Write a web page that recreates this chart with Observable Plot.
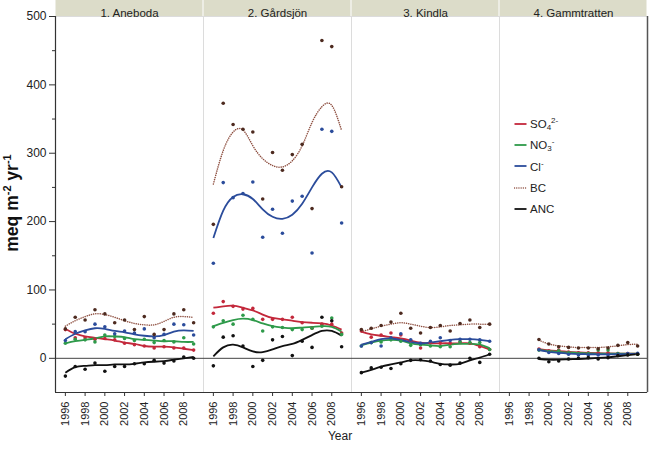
<!DOCTYPE html>
<html>
<head>
<meta charset="utf-8">
<script src="https://cdn.jsdelivr.net/npm/d3@7"></script>
<script src="https://cdn.jsdelivr.net/npm/@observablehq/plot@0.6"></script>
<style>
  html, body { margin: 0; padding: 0; background: #fff; }
  body { font-family: "Liberation Sans", Arial, Helvetica, sans-serif; color: #222; }
  #wrap { position: relative; width: 650px; height: 449px; overflow: hidden; }
  #ytitle { position: absolute; left: 12px; top: 203px; transform: translate(-50%, -50%) rotate(-90deg);
            white-space: nowrap; font-size: 17.5px; font-weight: bold; color: #111; }
  #ytitle sup { font-size: 11px; vertical-align: 7px; }
  #xtitle { position: absolute; left: 340px; top: 436px; transform: translate(-50%, -50%); font-size: 12px; color: #222; }
  .leg { position: absolute; left: 514px; height: 16px; display: flex; align-items: center; font-size: 11.5px; color: #222; white-space: nowrap; }
  .leg svg { margin-right: 3px; }
  .leg sub { font-size: 8px; vertical-align: -2px; }
  .leg sup { font-size: 8px; vertical-align: 5px; }
</style>
</head>
<body>
<div id="wrap"></div>
<script>
// ---------- data ----------
const facets = ["1. Aneboda", "2. Gårdsjön", "3. Kindla", "4. Gammtratten"];
const seriesNames = ["SO4", "NO3", "Cl", "BC", "ANC"];
const legendLabels = ["SO<sub>4</sub><sup>2-</sup>", "NO<sub>3</sub><sup>-</sup>", "Cl<sup>-</sup>", "BC", "ANC"];
const yearsFull = [1996, 1997, 1998, 1999, 2000, 2001, 2002, 2003, 2004, 2005, 2006, 2007, 2008, 2009];
const yearsGam = [1999, 2000, 2001, 2002, 2003, 2004, 2005, 2006, 2007, 2008, 2009];
const xTickYears = [1996, 1998, 2000, 2002, 2004, 2006, 2008];
const yTicks = [0, 100, 200, 300, 400, 500];
const yMinorTicks = [50, 150, 250, 350, 450];

// 1. Aneboda – observed
const anebodaSO4 = [42, 30, 30, 28, 29, 27, 22, 20, 18, 15, 17, 15, 15, 12];
const anebodaNO3 = [22, 28, 27, 24, 34, 32, 29, 26, 28, 23, 26, 24, 30, 21];
const anebodaCl  = [26, 39, 39, 50, 46, 36, 40, 37, 43, 30, 35, 50, 49, 34];
const anebodaBC  = [43, 60, 56, 71, 65, 52, 56, 42, 61, 35, 42, 65, 71, 52];
const anebodaANC = [-26, -12, -16, -7, -19, -12, -12, -8, -8, -3, -7, -4, 2, 0];
// 1. Aneboda – smoothed curve
const anebodaSO4Fit = [43, 36, 32, 30, 28, 26, 23, 21, 18, 17, 17, 16, 14, 12];
const anebodaNO3Fit = [22, 25, 27, 29, 32, 32, 31, 28, 27, 26, 25, 25, 24, 24];
const anebodaClFit  = [28, 36, 41, 44, 43, 40, 38, 35, 33, 32, 34, 39, 41, 40];
const anebodaBCFit  = [47, 55, 61, 65, 64, 60, 55, 51, 49, 49, 54, 60, 61, 60];
const anebodaANCFit = [-21, -13, -11, -10, -10, -9, -9, -8, -6, -5, -4, -2, 0, 2];

// 2. Gårdsjön – observed
const gardsjonSO4 = [66, 83, 76, 72, 73, 57, 57, 57, 60, 52, 44, 50, 50, 37];
const gardsjonNO3 = [46, 55, 50, 63, 57, 40, 46, 45, 42, 42, 44, 47, 59, 35];
const gardsjonCl  = [139, 257, 235, 241, 258, 177, 218, 183, 230, 237, 154, 335, 332, 198];
const gardsjonBC  = [196, 373, 342, 335, 331, 233, 301, 275, 298, 313, 219, 465, 456, 251];
const gardsjonANC = [-11, 31, 33, 18, -12, -3, 27, 32, 4, 25, 16, 60, 55, 17];
// 2. Gårdsjön – smoothed curve
const gardsjonSO4Fit = [74, 76, 77, 74, 70, 64, 59, 57, 55, 53, 52, 51, 48, 42];
const gardsjonNO3Fit = [47, 52, 56, 58, 56, 51, 47, 45, 44, 45, 46, 47, 46, 39];
const gardsjonClFit  = [176, 216, 236, 240, 233, 218, 207, 204, 210, 226, 250, 270, 272, 250];
const gardsjonBCFit  = [255, 304, 331, 334, 311, 292, 282, 280, 289, 311, 345, 368, 370, 333];
const gardsjonANCFit = [3, 16, 20, 16, 10, 9, 13, 18, 21, 27, 34, 40, 40, 33];

// 3. Kindla – observed
const kindlaSO4 = [40, 31, 34, 37, 34, 26, 15, 23, 22, 22, 24, 22, 17, 13];
const kindlaNO3 = [18, 23, 24, 27, 25, 19, 20, 18, 17, 17, 24, 23, 23, 13];
const kindlaCl  = [18, 23, 18, 30, 36, 27, 22, 25, 30, 26, 28, 28, 27, 25];
const kindlaBC  = [42, 44, 48, 53, 66, 44, 37, 45, 48, 40, 51, 56, 45, 50];
const kindlaANC = [-21, -14, -13, -15, -8, -3, -2, -4, -9, -10, -7, 0, -6, 6];
// 3. Kindla – smoothed curve
const kindlaSO4Fit = [39, 35, 33, 31, 29, 26, 23, 22, 22, 22, 22, 22, 18, 13];
const kindlaNO3Fit = [19, 23, 26, 27, 26, 22, 20, 19, 18, 20, 21, 21, 20, 15];
const kindlaClFit  = [20, 24, 28, 29, 27, 24, 22, 23, 25, 27, 28, 28, 27, 25];
const kindlaBCFit  = [39, 43, 47, 50, 52, 50, 47, 45, 46, 48, 49, 50, 50, 50];
const kindlaANCFit = [-21, -17, -12, -9, -6, -3, -3, -5, -8, -9, -8, -3, 1, 6];

// 4. Gammtratten – observed (from 1999)
const gammSO4 = [13.5, 11, 12, 9, 8, 8, 8, 8, 7, 7, 6];
const gammNO3 = [12, 10, 11, 8, 7, 7, 12, 12, 7, 6, 6];
const gammCl  = [12.5, 8.5, 7, 6, 5, 5, 5, 5, 6, 7, 7.5];
const gammBC  = [27.5, 21, 17, 16, 15, 15, 14, 15, 19, 23, 18];
const gammANC = [0, -5, -4, -1, 0, 1, -1, 1, 4, 5, 6];
// 4. Gammtratten – smoothed curve
const gammSO4Fit = [13.5, 11.5, 10.5, 9.5, 8.7, 8, 7.5, 7.2, 7, 7, 7];
const gammNO3Fit = [12.5, 10.8, 9.5, 8.5, 7.8, 7.3, 7, 6.8, 6.7, 6.8, 7];
const gammClFit  = [12, 9.5, 8, 7, 6.3, 6, 5.8, 5.8, 6, 6.3, 6.6];
const gammBCFit  = [26.5, 21, 18.3, 16.8, 15.8, 15.8, 15.8, 16.8, 18.3, 20, 20.7];
const gammANCFit = [-1, -2, -2, -1.5, -1, -0.3, 0.5, 1.5, 3, 4.5, 6];

// ---------- styles ----------
const lineColors = {SO4: "#c3283b", NO3: "#2e9a4a", Cl: "#2b4c9b", BC: "#8e4f40", ANC: "#111111"};
const dotColors  = {SO4: "#c3283b", NO3: "#2e9a4a", Cl: "#2b4c9b", BC: "#4d2a1f", ANC: "#111111"};
const xDom = [1995, 2010];
const yDom = [-50, 500];
const M = {top: 16, bottom: 57, left: 53, right: 2};
const W = 650, H = 449;

// ---------- build tables ----------
const siteTables = [
  {site: facets[0], years: yearsFull, obs: [anebodaSO4, anebodaNO3, anebodaCl, anebodaBC, anebodaANC],
   fit: [anebodaSO4Fit, anebodaNO3Fit, anebodaClFit, anebodaBCFit, anebodaANCFit]},
  {site: facets[1], years: yearsFull, obs: [gardsjonSO4, gardsjonNO3, gardsjonCl, gardsjonBC, gardsjonANC],
   fit: [gardsjonSO4Fit, gardsjonNO3Fit, gardsjonClFit, gardsjonBCFit, gardsjonANCFit]},
  {site: facets[2], years: yearsFull, obs: [kindlaSO4, kindlaNO3, kindlaCl, kindlaBC, kindlaANC],
   fit: [kindlaSO4Fit, kindlaNO3Fit, kindlaClFit, kindlaBCFit, kindlaANCFit]},
  {site: facets[3], years: yearsGam, obs: [gammSO4, gammNO3, gammCl, gammBC, gammANC],
   fit: [gammSO4Fit, gammNO3Fit, gammClFit, gammBCFit, gammANCFit]}
];
const points = [], fits = [];
for (const t of siteTables) {
  seriesNames.forEach((s, k) => {
    t.years.forEach((yr, i) => {
      points.push({site: t.site, series: s, year: yr, value: t.obs[k][i]});
      fits.push({site: t.site, series: s, year: yr, value: t.fit[k][i]});
    });
  });
}

// strip height in data units (top margin)
const plotH = H - M.top - M.bottom;
const stripTop = yDom[1] + (yDom[1] - yDom[0]) * M.top / plotH;

const lineMarks = [];
const dotMarks = [];
for (const s of seriesNames) {
  const isBC = s === "BC";
  lineMarks.push(Plot.line(fits.filter(d => d.series === s), {
    x: "year", y: "value", fx: "site", z: "site", stroke: lineColors[s],
    strokeWidth: isBC ? 1.5 : 1.8, strokeDasharray: isBC ? "0.1,2.1" : null,
    strokeLinecap: isBC ? "round" : "butt",
    curve: "natural"
  }));
  dotMarks.push(Plot.dot(points.filter(d => d.series === s), {
    x: "year", y: "value", fx: "site", fill: dotColors[s], r: 1.8, stroke: "none"
  }));
}

const chart = Plot.plot({
  width: W, height: H,
  marginTop: M.top, marginBottom: M.bottom, marginLeft: M.left, marginRight: M.right,
  style: {fontFamily: "Liberation Sans, Arial, Helvetica, sans-serif", fontSize: "11px", color: "#222", background: "white", overflow: "visible"},
  fx: {domain: facets, padding: 0, axis: null, label: null},
  x: {domain: xDom},
  y: {domain: yDom},
  marks: [
    Plot.rect([0], {x1: () => xDom[0], x2: () => xDom[1], y1: () => yDom[1], y2: () => stripTop,
                    fill: "#dcdcc9", insetLeft: 0.5, insetRight: 0.5}),
    Plot.frame({stroke: "#dcdcdc"}),
    Plot.ruleY([0], {stroke: "#444", strokeWidth: 1}),
    ...lineMarks,
    ...dotMarks,
    Plot.text(facets, {fx: d => d, text: d => d, frameAnchor: "top", dy: -8, fontSize: 11.5, fill: "#222"}),
    Plot.axisY(yTicks, {tickSize: 6, tickPadding: 3, fontSize: 12, label: null, stroke: "#333"}),
    Plot.axisY(yMinorTicks, {tickSize: 3, text: null, label: null, stroke: "#333"}),
    Plot.ruleX([0], {x: () => xDom[0], fx: () => facets[0], y1: () => yDom[0], y2: () => yDom[1], stroke: "#333", strokeWidth: 1.2}),
    Plot.ruleX([0], {x: () => xDom[1], fx: () => facets[3], y1: () => yDom[0], y2: () => yDom[1], stroke: "#555", strokeWidth: 1.5}),
    Plot.axisX(xTickYears, {tickRotate: -90, tickFormat: d => String(d), tickSize: 4, tickPadding: 5,
                            fontSize: 11, label: null, stroke: "#333"}),
    Plot.ruleY([0], {y: () => yDom[0], stroke: "#333", strokeWidth: 1.2})
  ]
});

const wrap = document.getElementById("wrap");
wrap.appendChild(chart);

const yt = document.createElement("div");
yt.id = "ytitle";
yt.innerHTML = "meq m<sup>-2</sup> yr<sup>-1</sup>";
wrap.appendChild(yt);

const xt = document.createElement("div");
xt.id = "xtitle";
xt.textContent = "Year";
wrap.appendChild(xt);

seriesNames.forEach((s, i) => {
  const row = document.createElement("div");
  row.className = "leg";
  row.style.top = (124 + i * 21.2 - 8) + "px";
  const dash = s === "BC" ? 'stroke-dasharray="0.1,2.1" stroke-linecap="round"' : "";
  row.innerHTML = `<svg width="13" height="4"><line x1="0.5" y1="2" x2="12.5" y2="2" stroke="${lineColors[s]}" stroke-width="${s === "BC" ? 1.3 : 1.8}" ${dash}/></svg><span>${legendLabels[i]}</span>`;
  wrap.appendChild(row);
});
</script>
</body>
</html>
